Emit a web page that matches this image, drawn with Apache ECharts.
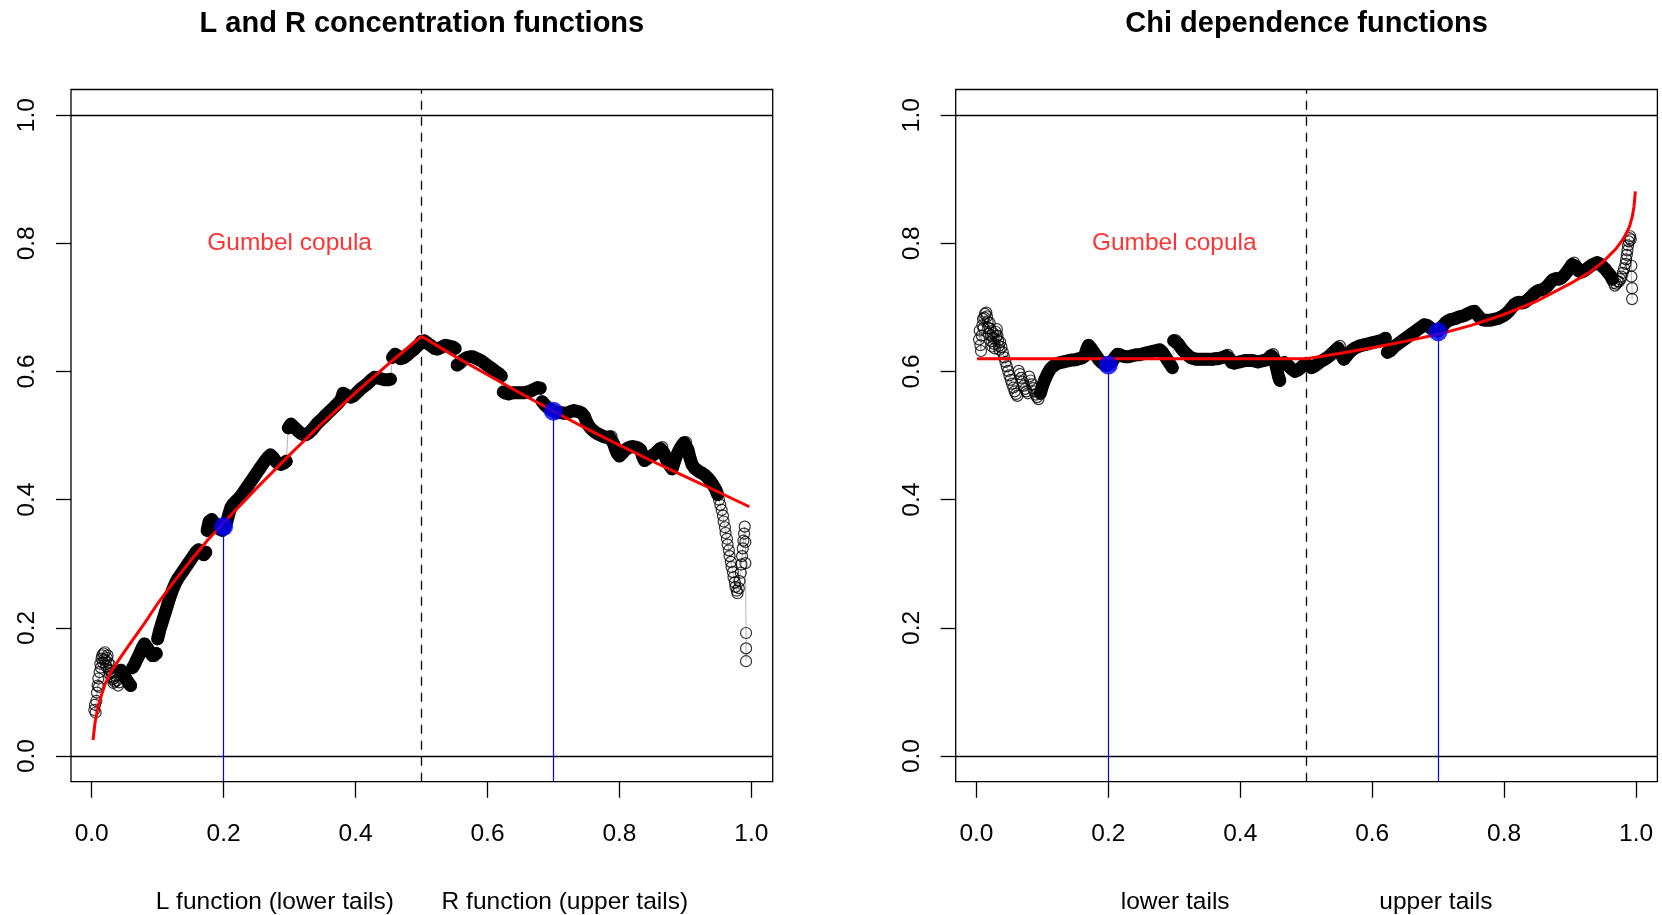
<!DOCTYPE html>
<html>
<head>
<meta charset="utf-8">
<script src="https://cdn.jsdelivr.net/npm/echarts@6.0.0/dist/echarts.min.js"></script>
<style>
  html, body { margin: 0; padding: 0; background: #ffffff; }
  #chart { width: 1662px; height: 915px; }
</style>
</head>
<body>
<div id="chart"></div>
<script>
// ---------- values ----------
const X_TICKS = [0, 0.2, 0.4, 0.6, 0.8, 1.0];
const Y_TICKS = [0, 0.2, 0.4, 0.6, 0.8, 1.0];

// Empirical L function, u in (0, 0.5]
const L_EMPIRICAL = [
  [0.004, 0.072], [0.005, 0.080], [0.006, 0.068], [0.007, 0.086], [0.008, 0.099], [0.009, 0.110],
  [0.010, 0.121], [0.011, 0.108], [0.012, 0.131], [0.013, 0.144], [0.014, 0.138], [0.015, 0.152],
  [0.016, 0.157], [0.017, 0.146], [0.018, 0.160], [0.019, 0.151], [0.020, 0.162], [0.021, 0.148],
  [0.022, 0.140], [0.023, 0.153], [0.024, 0.157], [0.025, 0.146], [0.026, 0.135], [0.027, 0.128],
  [0.028, 0.142], [0.029, 0.133], [0.030, 0.124], [0.031, 0.130], [0.032, 0.120], [0.033, 0.114],
  [0.034, 0.122], [0.035, 0.116], [0.036, 0.125], [0.038, 0.118], [0.040, 0.110], [0.042, 0.115],
  [0.044, 0.134], [0.047, 0.129], [0.050, 0.124], [0.053, 0.119], [0.056, 0.114], [0.059, 0.110],
  [0.062, 0.138], [0.065, 0.143], [0.068, 0.150], [0.071, 0.156], [0.074, 0.163], [0.077, 0.170],
  [0.080, 0.175], [0.083, 0.171], [0.086, 0.166], [0.089, 0.161], [0.092, 0.157], [0.095, 0.156],
  [0.098, 0.160], [0.100, 0.183], [0.103, 0.196], [0.106, 0.206], [0.109, 0.216], [0.112, 0.226],
  [0.115, 0.236], [0.118, 0.246], [0.121, 0.255], [0.124, 0.263], [0.127, 0.270], [0.130, 0.276],
  [0.134, 0.282], [0.138, 0.288], [0.142, 0.294], [0.146, 0.300], [0.150, 0.306], [0.154, 0.312],
  [0.158, 0.318], [0.162, 0.322], [0.166, 0.318], [0.170, 0.314], [0.173, 0.318], [0.175, 0.352],
  [0.178, 0.366], [0.182, 0.369], [0.186, 0.364], [0.190, 0.359], [0.194, 0.354], [0.198, 0.352],
  [0.202, 0.357], [0.205, 0.366], [0.208, 0.378], [0.211, 0.388], [0.215, 0.394], [0.219, 0.398],
  [0.223, 0.402], [0.227, 0.407], [0.231, 0.413], [0.235, 0.419], [0.239, 0.425], [0.243, 0.431],
  [0.247, 0.437], [0.251, 0.443], [0.255, 0.449], [0.259, 0.455], [0.263, 0.461], [0.267, 0.466],
  [0.271, 0.470], [0.275, 0.466], [0.279, 0.460], [0.283, 0.456], [0.287, 0.455], [0.291, 0.457],
  [0.295, 0.460], [0.298, 0.512], [0.302, 0.518], [0.306, 0.514], [0.310, 0.510], [0.314, 0.506],
  [0.318, 0.503], [0.322, 0.501], [0.326, 0.502], [0.330, 0.505], [0.334, 0.509], [0.338, 0.514],
  [0.342, 0.519], [0.346, 0.523], [0.350, 0.527], [0.354, 0.531], [0.358, 0.535], [0.362, 0.539],
  [0.366, 0.543], [0.370, 0.547], [0.374, 0.551], [0.378, 0.556], [0.381, 0.566], [0.385, 0.564],
  [0.389, 0.561], [0.393, 0.560], [0.397, 0.562], [0.401, 0.566], [0.405, 0.570], [0.409, 0.574],
  [0.413, 0.577], [0.417, 0.580], [0.421, 0.584], [0.425, 0.588], [0.429, 0.591], [0.433, 0.590],
  [0.437, 0.589], [0.441, 0.588], [0.445, 0.587], [0.449, 0.587], [0.453, 0.588], [0.456, 0.622],
  [0.460, 0.627], [0.464, 0.624], [0.468, 0.620], [0.472, 0.621], [0.476, 0.624], [0.480, 0.627],
  [0.484, 0.631], [0.488, 0.634], [0.492, 0.638], [0.496, 0.642], [0.500, 0.647]
];

// Empirical R function, u in [0.5, 1)
const R_EMPIRICAL = [
  [0.500, 0.647], [0.504, 0.648], [0.508, 0.645], [0.512, 0.642], [0.516, 0.639], [0.520, 0.636],
  [0.524, 0.635], [0.528, 0.637], [0.532, 0.639], [0.536, 0.641], [0.540, 0.640], [0.544, 0.639],
  [0.548, 0.638], [0.551, 0.636], [0.554, 0.610], [0.558, 0.613], [0.562, 0.617], [0.566, 0.620],
  [0.570, 0.622], [0.574, 0.623], [0.578, 0.623], [0.582, 0.621], [0.586, 0.619], [0.590, 0.617],
  [0.594, 0.614], [0.598, 0.611], [0.602, 0.608], [0.606, 0.605], [0.610, 0.602], [0.614, 0.599],
  [0.618, 0.596], [0.621, 0.593], [0.624, 0.568], [0.628, 0.566], [0.632, 0.565], [0.636, 0.566],
  [0.640, 0.567], [0.644, 0.567], [0.648, 0.567], [0.652, 0.567], [0.656, 0.567], [0.660, 0.568],
  [0.664, 0.569], [0.668, 0.571], [0.672, 0.573], [0.676, 0.575], [0.680, 0.574], [0.683, 0.553],
  [0.687, 0.548], [0.691, 0.544], [0.695, 0.541], [0.699, 0.539], [0.703, 0.537], [0.707, 0.536],
  [0.711, 0.536], [0.715, 0.535], [0.719, 0.535], [0.723, 0.536], [0.727, 0.538], [0.731, 0.539],
  [0.735, 0.538], [0.739, 0.537], [0.743, 0.535], [0.747, 0.530], [0.750, 0.522], [0.753, 0.516],
  [0.757, 0.511], [0.761, 0.507], [0.765, 0.504], [0.769, 0.502], [0.773, 0.500], [0.777, 0.498],
  [0.781, 0.497], [0.785, 0.498], [0.788, 0.499], [0.791, 0.488], [0.794, 0.479], [0.797, 0.472],
  [0.800, 0.468], [0.804, 0.472], [0.808, 0.477], [0.812, 0.480], [0.816, 0.482], [0.820, 0.483],
  [0.824, 0.482], [0.828, 0.481], [0.832, 0.478], [0.835, 0.468], [0.838, 0.461], [0.842, 0.464],
  [0.846, 0.467], [0.850, 0.469], [0.854, 0.472], [0.858, 0.476], [0.862, 0.480], [0.865, 0.482],
  [0.868, 0.472], [0.871, 0.463], [0.874, 0.457], [0.877, 0.452], [0.880, 0.448], [0.883, 0.458],
  [0.886, 0.467], [0.889, 0.474], [0.892, 0.480], [0.895, 0.485], [0.898, 0.489], [0.901, 0.490],
  [0.904, 0.478], [0.907, 0.465], [0.910, 0.455], [0.914, 0.449], [0.918, 0.446], [0.922, 0.443],
  [0.926, 0.441], [0.930, 0.438], [0.934, 0.434], [0.938, 0.429], [0.942, 0.423], [0.946, 0.416],
  [0.949, 0.408], [0.951, 0.400], [0.953, 0.392], [0.955, 0.384], [0.957, 0.375], [0.958, 0.366],
  [0.960, 0.357], [0.961, 0.348], [0.963, 0.339], [0.964, 0.330], [0.966, 0.321], [0.967, 0.312],
  [0.969, 0.303], [0.970, 0.295], [0.972, 0.287], [0.973, 0.279], [0.975, 0.271], [0.976, 0.264],
  [0.978, 0.258], [0.979, 0.254], [0.981, 0.262], [0.982, 0.273], [0.984, 0.286], [0.985, 0.299],
  [0.986, 0.312], [0.987, 0.324], [0.988, 0.336], [0.989, 0.347], [0.990, 0.358], [0.991, 0.334],
  [0.991, 0.301], [0.992, 0.192], [0.992, 0.168], [0.992, 0.148]
];

// Empirical chi function, lower tails
const CHI_LOWER_EMPIRICAL = [
  [0.004, 0.650], [0.005, 0.664], [0.006, 0.641], [0.007, 0.632], [0.008, 0.656], [0.009, 0.672],
  [0.010, 0.682], [0.011, 0.668], [0.012, 0.684], [0.013, 0.690], [0.015, 0.692], [0.016, 0.686],
  [0.017, 0.678], [0.018, 0.668], [0.019, 0.659], [0.020, 0.676], [0.021, 0.667], [0.022, 0.656],
  [0.023, 0.647], [0.024, 0.639], [0.025, 0.660], [0.026, 0.652], [0.027, 0.643], [0.028, 0.636],
  [0.029, 0.662], [0.030, 0.655], [0.031, 0.666], [0.032, 0.656], [0.033, 0.648], [0.034, 0.640],
  [0.035, 0.634], [0.036, 0.646], [0.038, 0.638], [0.040, 0.630], [0.042, 0.622], [0.044, 0.615],
  [0.046, 0.608], [0.048, 0.601], [0.050, 0.594], [0.052, 0.587], [0.054, 0.581], [0.056, 0.575],
  [0.058, 0.569], [0.060, 0.565], [0.062, 0.562], [0.064, 0.601], [0.066, 0.596], [0.068, 0.590],
  [0.070, 0.584], [0.072, 0.578], [0.074, 0.573], [0.076, 0.569], [0.078, 0.566], [0.080, 0.592],
  [0.082, 0.586], [0.084, 0.580], [0.086, 0.574], [0.088, 0.569], [0.090, 0.564], [0.092, 0.560],
  [0.094, 0.557], [0.097, 0.566], [0.100, 0.577], [0.104, 0.588], [0.108, 0.597], [0.112, 0.604],
  [0.116, 0.608], [0.120, 0.611], [0.124, 0.613], [0.128, 0.614], [0.132, 0.615], [0.136, 0.616],
  [0.140, 0.617], [0.144, 0.618], [0.148, 0.618], [0.152, 0.619], [0.156, 0.620], [0.160, 0.621],
  [0.164, 0.624], [0.167, 0.634], [0.170, 0.641], [0.174, 0.636], [0.178, 0.630], [0.182, 0.624],
  [0.186, 0.618], [0.190, 0.614], [0.194, 0.611], [0.198, 0.609], [0.202, 0.611], [0.206, 0.616],
  [0.210, 0.622], [0.214, 0.627], [0.218, 0.626], [0.222, 0.624], [0.226, 0.623], [0.230, 0.623],
  [0.234, 0.624], [0.238, 0.625], [0.242, 0.626], [0.246, 0.626], [0.250, 0.627], [0.254, 0.628],
  [0.258, 0.629], [0.262, 0.630], [0.266, 0.631], [0.270, 0.632], [0.274, 0.633], [0.278, 0.634],
  [0.282, 0.630], [0.286, 0.624], [0.290, 0.617], [0.294, 0.611], [0.297, 0.606], [0.299, 0.648],
  [0.302, 0.649], [0.306, 0.643], [0.310, 0.637], [0.314, 0.632], [0.318, 0.628], [0.322, 0.624],
  [0.326, 0.621], [0.330, 0.620], [0.334, 0.619], [0.338, 0.619], [0.342, 0.619], [0.346, 0.619],
  [0.350, 0.619], [0.354, 0.619], [0.358, 0.619], [0.362, 0.620], [0.366, 0.620], [0.370, 0.621],
  [0.374, 0.622], [0.378, 0.624], [0.381, 0.626], [0.384, 0.620], [0.387, 0.614], [0.391, 0.613],
  [0.395, 0.614], [0.399, 0.615], [0.403, 0.616], [0.407, 0.617], [0.411, 0.617], [0.415, 0.617],
  [0.419, 0.617], [0.423, 0.616], [0.427, 0.615], [0.431, 0.616], [0.435, 0.617], [0.439, 0.618],
  [0.443, 0.621], [0.447, 0.625], [0.450, 0.627], [0.452, 0.619], [0.454, 0.610], [0.456, 0.601],
  [0.458, 0.592], [0.460, 0.586], [0.463, 0.611], [0.467, 0.614], [0.471, 0.611], [0.475, 0.607],
  [0.479, 0.603], [0.483, 0.600], [0.487, 0.602], [0.491, 0.605], [0.495, 0.609], [0.500, 0.612]
];

// Empirical chi function, upper tails
const CHI_UPPER_EMPIRICAL = [
  [0.500, 0.612], [0.504, 0.608], [0.508, 0.606], [0.512, 0.608], [0.516, 0.611], [0.520, 0.614],
  [0.524, 0.617], [0.528, 0.619], [0.532, 0.622], [0.536, 0.625], [0.540, 0.629], [0.544, 0.633],
  [0.548, 0.637], [0.551, 0.640], [0.554, 0.625], [0.557, 0.619], [0.561, 0.624], [0.565, 0.629],
  [0.569, 0.633], [0.573, 0.636], [0.577, 0.638], [0.581, 0.640], [0.585, 0.641], [0.589, 0.642],
  [0.593, 0.643], [0.597, 0.644], [0.601, 0.645], [0.605, 0.646], [0.609, 0.647], [0.613, 0.648],
  [0.617, 0.650], [0.620, 0.652], [0.623, 0.630], [0.627, 0.632], [0.631, 0.636], [0.635, 0.640],
  [0.639, 0.643], [0.643, 0.646], [0.647, 0.649], [0.651, 0.652], [0.655, 0.655], [0.659, 0.658],
  [0.663, 0.661], [0.667, 0.664], [0.671, 0.667], [0.675, 0.670], [0.679, 0.673], [0.683, 0.672],
  [0.687, 0.669], [0.691, 0.666], [0.695, 0.664], [0.699, 0.663], [0.703, 0.666], [0.707, 0.671],
  [0.711, 0.676], [0.715, 0.679], [0.719, 0.681], [0.723, 0.682], [0.727, 0.683], [0.731, 0.685],
  [0.735, 0.686], [0.739, 0.687], [0.743, 0.689], [0.747, 0.691], [0.751, 0.693], [0.755, 0.694],
  [0.759, 0.689], [0.763, 0.684], [0.767, 0.681], [0.771, 0.680], [0.775, 0.680], [0.779, 0.680],
  [0.783, 0.681], [0.787, 0.682], [0.791, 0.683], [0.795, 0.685], [0.799, 0.687], [0.803, 0.690],
  [0.807, 0.694], [0.811, 0.699], [0.815, 0.704], [0.819, 0.707], [0.823, 0.708], [0.827, 0.707],
  [0.831, 0.708], [0.835, 0.711], [0.839, 0.715], [0.843, 0.719], [0.847, 0.723], [0.851, 0.726],
  [0.855, 0.727], [0.859, 0.728], [0.863, 0.731], [0.867, 0.735], [0.871, 0.740], [0.875, 0.744],
  [0.879, 0.745], [0.883, 0.744], [0.887, 0.746], [0.891, 0.750], [0.895, 0.755], [0.899, 0.761],
  [0.903, 0.767], [0.906, 0.770], [0.909, 0.764], [0.913, 0.757], [0.917, 0.755], [0.921, 0.757],
  [0.925, 0.760], [0.929, 0.763], [0.933, 0.766], [0.937, 0.768], [0.941, 0.770], [0.945, 0.768],
  [0.949, 0.764], [0.953, 0.760], [0.957, 0.755], [0.961, 0.750], [0.964, 0.744], [0.966, 0.738],
  [0.968, 0.734], [0.970, 0.737], [0.972, 0.741], [0.974, 0.740], [0.976, 0.744], [0.978, 0.748],
  [0.980, 0.754], [0.982, 0.761], [0.984, 0.768], [0.985, 0.775], [0.986, 0.782], [0.987, 0.789],
  [0.988, 0.797], [0.989, 0.803], [0.990, 0.808], [0.991, 0.811], [0.992, 0.806], [0.993, 0.765],
  [0.993, 0.748], [0.994, 0.730], [0.994, 0.713]
];

// Fitted Gumbel copula curves
const L_GUMBEL = [
  [0.002, 0.025], [0.005, 0.052], [0.01, 0.079], [0.02, 0.112], [0.03, 0.133], [0.045, 0.156],
  [0.06, 0.178], [0.08, 0.207], [0.1, 0.238], [0.12, 0.266], [0.15, 0.305], [0.175, 0.336],
  [0.2, 0.364], [0.25, 0.418], [0.3, 0.47], [0.35, 0.52], [0.4, 0.567], [0.45, 0.612], [0.5, 0.655]
];
const R_GUMBEL = [
  [0.5, 0.655], [0.55, 0.624], [0.6, 0.595], [0.65, 0.566], [0.7, 0.538], [0.75, 0.511],
  [0.8, 0.485], [0.85, 0.460], [0.9, 0.436], [0.95, 0.412], [0.997, 0.389]
];
const CHI_LOWER_GUMBEL = [
  [0.001, 0.62], [0.1, 0.62], [0.2, 0.62], [0.3, 0.62], [0.4, 0.62], [0.5, 0.62]
];
const CHI_UPPER_GUMBEL = [
  [0.5, 0.62], [0.55, 0.628], [0.6, 0.637], [0.65, 0.647], [0.7, 0.658], [0.75, 0.672],
  [0.8, 0.689], [0.85, 0.710], [0.9, 0.737], [0.93, 0.755], [0.95, 0.771], [0.97, 0.792],
  [0.98, 0.806], [0.985, 0.815], [0.99, 0.826], [0.994, 0.840], [0.997, 0.858], [0.999, 0.881]
];

// Highlighted evaluation points (u, value)
const LR_MARKS = [[0.2, 0.358], [0.7, 0.538]];
const CHI_MARKS = [[0.2, 0.610], [0.7, 0.662]];

const FIT_LABEL = 'Gumbel copula';
const FIT_LABEL_POS = [0.3, 0.8];
const REF_LEVELS = [0, 1];
const SPLIT_U = 0.5;

const TITLES = ['L and R concentration functions', 'Chi dependence functions'];
const X_NAMES = [
  'L function (lower tails)       R function (upper tails)',
  'lower tails                      upper tails'
];

// ---------- layout & style ----------
const FONT = '"Liberation Sans", Arial, Helvetica, sans-serif';
const X_MIN = -0.0314, X_MAX = 1.0324, Y_MIN = -0.04, Y_MAX = 1.04;
const BOX_LEFTS = [71, 955.7];
const BOX_TOP = 89.5, BOX_W = 701.7, BOX_H = 692.2;
const LINE_W = 1.3;
const BAND_W = 13;
const JUMP = 0.02;

const panels = [
  { emp: [L_EMPIRICAL, R_EMPIRICAL], fit: [L_GUMBEL, R_GUMBEL], marks: LR_MARKS, dense: [0.043, 0.95] },
  { emp: [CHI_LOWER_EMPIRICAL, CHI_UPPER_EMPIRICAL], fit: [CHI_LOWER_GUMBEL, CHI_UPPER_GUMBEL], marks: CHI_MARKS, dense: [0.096, 0.965] }
];

const sx = BOX_W / (X_MAX - X_MIN);
const sy = BOX_H / (Y_MAX - Y_MIN);

const grids = [], xAxes = [], yAxes = [], series = [], graphics = [];

const tickLabelStyle = { fontFamily: FONT, fontSize: 24.5, color: '#000', formatter: v => v.toFixed(1) };
const gridBase = { containLabel: false, outerBoundsMode: 'none' };

panels.forEach((p, i) => {
  const left = BOX_LEFTS[i];
  const dataIdx = 3 * i, xtIdx = 3 * i + 1, ytIdx = 3 * i + 2;

  // plotting box
  grids.push(Object.assign({ left: left, top: BOX_TOP, width: BOX_W, height: BOX_H, show: true,
    borderColor: '#000', borderWidth: LINE_W, backgroundColor: 'transparent' }, gridBase));
  // horizontal 0..1 scale, its axis on the bottom edge of the box
  grids.push(Object.assign({ left: left + (0 - X_MIN) * sx, width: sx, top: BOX_TOP, height: BOX_H,
    show: false }, gridBase));
  // vertical 0..1 scale, its axis on the left edge of the box
  grids.push(Object.assign({ left: left, width: BOX_W, top: BOX_TOP + (Y_MAX - 1) * sy, height: sy,
    show: false }, gridBase));

  // data grid axes
  xAxes.push({
    gridIndex: dataIdx, type: 'value', min: X_MIN, max: X_MAX,
    axisLine: { show: false }, axisTick: { show: false }, axisLabel: { show: false }, splitLine: { show: false },
    name: X_NAMES[i], nameLocation: 'middle', nameGap: 108,
    nameTextStyle: { fontFamily: FONT, fontSize: 24.5, color: '#000' }
  });
  yAxes.push({ gridIndex: dataIdx, type: 'value', min: Y_MIN, max: Y_MAX, show: false });

  // x tick grid
  xAxes.push({
    gridIndex: xtIdx, type: 'value', min: X_TICKS[0], max: X_TICKS[X_TICKS.length - 1],
    interval: X_TICKS[1] - X_TICKS[0], position: 'bottom',
    axisLine: { show: false },
    axisTick: { show: true, length: 16, lineStyle: { color: '#000', width: LINE_W } },
    axisLabel: Object.assign({ show: true, margin: 40 }, tickLabelStyle),
    splitLine: { show: false }
  });
  yAxes.push({ gridIndex: xtIdx, type: 'value', min: 0, max: 1, show: false });

  // y tick grid
  xAxes.push({ gridIndex: ytIdx, type: 'value', min: 0, max: 1, show: false });
  yAxes.push({
    gridIndex: ytIdx, type: 'value', min: Y_TICKS[0], max: Y_TICKS[Y_TICKS.length - 1],
    interval: Y_TICKS[1] - Y_TICKS[0], position: 'left',
    axisLine: { show: false },
    axisTick: { show: true, length: 15, lineStyle: { color: '#000', width: LINE_W } },
    axisLabel: Object.assign({ show: true, rotate: 90, margin: 31 }, tickLabelStyle),
    splitLine: { show: false }
  });

  const ax = { xAxisIndex: dataIdx, yAxisIndex: dataIdx };

  p.emp.forEach((pts, k) => {
    // thin grey path joining consecutive points
    const connector = Object.assign({
      type: 'line', data: pts, showSymbol: false, silent: true, z: 1,
      lineStyle: { color: '#b4b4b4', width: 1 }
    }, ax);
    if (k === 0) {
      connector.markLine = {
        silent: true, symbol: 'none', label: { show: false },
        lineStyle: { color: '#000', width: LINE_W, type: 'solid' },
        data: REF_LEVELS.map(v => ({ yAxis: v })).concat([
          { xAxis: SPLIT_U, lineStyle: { type: [9, 7], color: '#000', width: LINE_W } }
        ])
      };
    }
    series.push(connector);

    // densely overlapping points rendered as a solid band, broken at jumps
    let seg = [];
    const flush = () => {
      if (seg.length > 1) {
        series.push(Object.assign({
          type: 'line', data: seg, showSymbol: false, silent: true, z: 2,
          lineStyle: { color: '#000', width: BAND_W, cap: 'round', join: 'round' }
        }, ax));
      }
      seg = [];
    };
    pts.forEach(pt => {
      const inDense = pt[0] >= p.dense[0] && pt[0] <= p.dense[1];
      if (!inDense) { flush(); return; }
      if (seg.length && Math.abs(pt[1] - seg[seg.length - 1][1]) > JUMP) flush();
      seg.push(pt);
    });
    flush();

    // open circles
    series.push(Object.assign({
      type: 'scatter', data: pts, symbol: 'circle', symbolSize: 11, silent: true, z: 3,
      itemStyle: { color: 'rgba(0,0,0,0)', borderColor: '#000', borderWidth: 1.2 }
    }, ax));
  });

  // fitted copula curves
  p.fit.forEach(curve => {
    series.push(Object.assign({
      type: 'line', data: curve, showSymbol: false, silent: true, z: 5,
      lineStyle: { color: '#ff0000', width: 3 }
    }, ax));
  });

  // highlighted points with drop lines
  series.push(Object.assign({
    type: 'scatter', data: p.marks, symbol: 'circle', symbolSize: 19, silent: true, z: 6,
    itemStyle: { color: '#0000ff' },
    markLine: {
      silent: true, symbol: 'none', label: { show: false },
      lineStyle: { color: '#0000ff', width: 1.2, type: 'solid' },
      data: p.marks.map(m => [{ coord: [m[0], Y_MIN] }, { coord: [m[0], m[1]] }])
    }
  }, ax));

  // model label
  series.push(Object.assign({
    type: 'scatter', data: [FIT_LABEL_POS], symbolSize: 1, silent: true, z: 7,
    itemStyle: { color: 'rgba(0,0,0,0)' },
    label: { show: true, position: 'inside', formatter: FIT_LABEL, color: '#ff0000',
      fontFamily: FONT, fontSize: 24.5 }
  }, ax));

  graphics.push({
    type: 'text', x: left + BOX_W / 2, y: 23.5, silent: true,
    style: { text: TITLES[i], fill: '#000', font: 'bold 29px ' + FONT,
      align: 'center', verticalAlign: 'middle', textAlign: 'center', textVerticalAlign: 'middle' }
  });
});

const chart = echarts.init(document.getElementById('chart'), null, { renderer: 'canvas' });
chart.setOption({
  animation: false,
  backgroundColor: '#ffffff',
  grid: grids,
  xAxis: xAxes,
  yAxis: yAxes,
  series: series,
  graphic: graphics
});
</script>
</body>
</html>
